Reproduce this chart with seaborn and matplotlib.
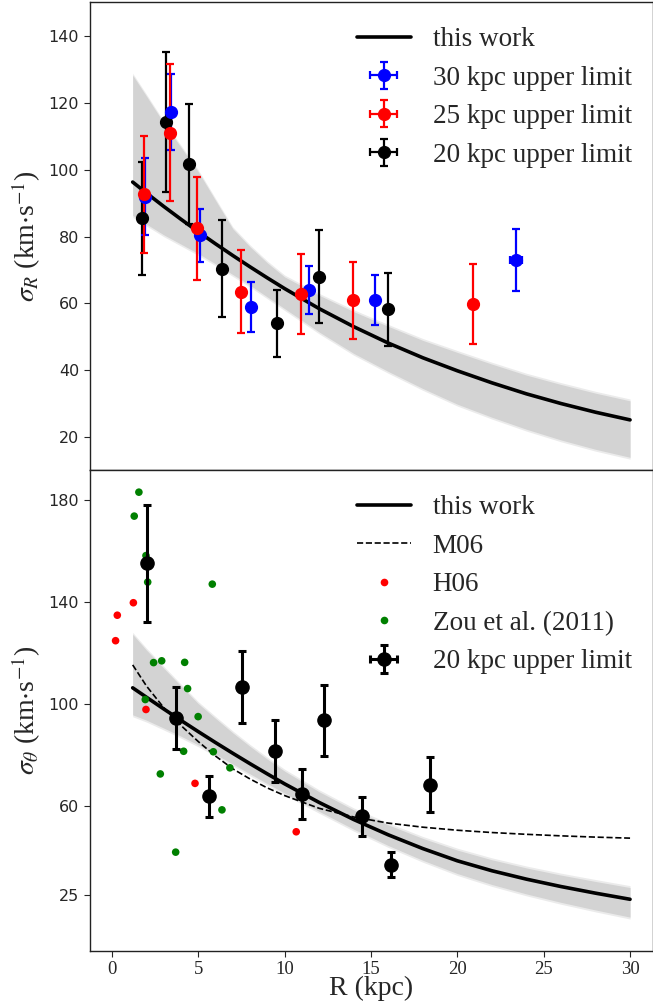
import numpy as np
import pandas as pd
import matplotlib
matplotlib.use("Agg")
import matplotlib.pyplot as plt
from matplotlib.lines import Line2D
import seaborn as sns

# ---------------- data: top panel (sigma_R) ----------------
r30 = [1.9, 3.42, 5.1, 8.03, 11.4, 15.23, 23.39]
s30 = [91.9, 117.3, 80.3, 58.9, 63.9, 60.9, 72.9]
e30 = [11.5, 11.4, 8.0, 7.4, 7.2, 7.5, 9.3]
x30 = [0.1, 0.1, 0.1, 0.1, 0.1, 0.1, 0.35]

r25 = [1.85, 3.36, 4.9, 7.47, 10.96, 13.94, 20.92]
s25 = [92.6, 111.1, 82.5, 63.5, 62.7, 60.9, 59.8]
e25 = [17.4, 20.5, 15.4, 12.4, 12.0, 11.6, 11.9]
x25 = [0.1, 0.1, 0.1, 0.1, 0.1, 0.1, 0.2]

r20 = [1.75, 3.15, 4.46, 6.39, 9.53, 12.0, 15.98]
s20 = [85.4, 114.3, 101.8, 70.4, 54.0, 68.0, 58.2]
e20 = [17.0, 21.0, 18.0, 14.6, 10.0, 13.8, 11.0]
x20 = [0.1, 0.1, 0.1, 0.1, 0.1, 0.1, 0.1]

model_r = [1.2, 2, 3, 4, 5, 6, 7, 8, 9, 10, 12, 14, 16, 18, 20, 22, 24, 26, 28, 30]
sigR_fit = [96.3, 93.0, 89.0, 85.15, 81.4, 77.8, 74.3, 70.9, 67.6, 64.4,
            58.4, 53.0, 48.1, 43.7, 39.8, 36.2, 32.9, 30.0, 27.4, 25.1]
sigR_hi = [128.3, 122.0, 114.0, 106.7, 99.4, 90.8, 82.3, 76.9, 72.1, 67.9,
           62.4, 57.5, 53.1, 48.9, 45.3, 41.8, 38.5, 35.7, 33.1, 30.8]
sigR_lo = [86.3, 83.7, 80.5, 77.7, 74.9, 71.8, 68.6, 65.4, 61.9, 58.4,
           51.4, 45.0, 39.6, 34.5, 29.8, 25.9, 22.3, 19.1, 16.3, 13.9]

# ---------------- data: bottom panel (sigma_theta) ----------------
sigT_fit = [106.3, 102.6, 98.0, 93.5, 89.1, 84.8, 80.6, 76.5, 72.5, 68.6,
            61.3, 54.6, 48.6, 43.2, 38.4, 34.5, 31.2, 28.3, 25.7, 23.3]
sigT_hi = [127.3, 121.1, 114.0, 107.0, 100.1, 94.3, 88.6, 83.3, 78.3, 73.6,
           65.5, 58.4, 52.5, 47.2, 42.6, 38.8, 35.6, 32.8, 30.3, 27.9]
sigT_lo = [95.7, 93.6, 90.5, 87.3, 83.9, 80.2, 76.4, 72.5, 68.7, 65.0,
           57.8, 50.8, 44.4, 38.6, 33.4, 29.1, 25.4, 22.1, 19.1, 16.3]
m06 = [115.3, 107.0, 98.5, 91.5, 85.2, 79.5, 74.5, 70.5, 67.0, 64.0,
       59.0, 55.6, 53.2, 51.6, 50.4, 49.5, 48.8, 48.2, 47.7, 47.3]

h06_r = [0.31, 0.21, 1.24, 1.97, 4.81, 10.67]
h06_s = [134.8, 124.8, 139.7, 97.8, 68.8, 49.8]

zou_r = [1.56, 1.29, 1.97, 2.07, 5.81, 2.41, 2.88, 4.21, 4.38, 1.93,
         4.99, 4.15, 5.87, 6.83, 2.8, 6.37, 3.69]
zou_s = [183.1, 173.7, 158.2, 147.8, 147.0, 116.2, 116.9, 116.3, 106.0, 101.7,
         95.0, 81.4, 81.2, 74.9, 72.5, 58.4, 41.8]

t20_r = [2.01, 3.71, 5.63, 7.53, 9.44, 11.0, 12.28, 14.46, 16.17, 18.41]
t20_s = [155.2, 94.5, 63.7, 106.5, 81.4, 64.6, 93.5, 55.8, 36.9, 68.2]
t20_e = [23.0, 12.3, 8.0, 14.2, 12.2, 9.7, 13.8, 7.5, 4.8, 10.8]
t20_x = [0.1] * 10

top_yticks = [20, 40, 60, 80, 100, 120, 140]
bot_yticks = [25, 60, 100, 140, 180]
xticks = [0, 5, 10, 15, 20, 25, 30]

# ---------------- style ----------------
sns.set_style("ticks")
plt.rcParams["font.family"] = ["Liberation Serif", "DejaVu Serif"]
plt.rcParams["mathtext.fontset"] = "stix"

W, H = 653, 1006
fig = plt.figure(figsize=(W / 100, H / 100), dpi=100)
left = 89.5 / W
width = (652.5 - 89.5) / W
ax1 = fig.add_axes([left, 1 - 470 / H, width, 468 / H])
ax2 = fig.add_axes([left, 1 - 951 / H, width, 481 / H])

band_col = "#d3d3d3"
mod = pd.DataFrame({"r": model_r, "fitR": sigR_fit, "hiR": sigR_hi, "loR": sigR_lo,
                    "fitT": sigT_fit, "hiT": sigT_hi, "loT": sigT_lo, "m06": m06})


def soft_band(ax, lo, hi, span):
    # main band plus a faint halo to imitate the blurred edge
    pad = span * 0.004
    ax.fill_between(mod["r"], mod[lo] - pad, mod[hi] + pad, color=band_col,
                    alpha=0.45, lw=0, zorder=0)
    ax.fill_between(mod["r"], mod[lo], mod[hi], color=band_col, lw=0, zorder=0.1)


# ---- top panel ----
soft_band(ax1, "loR", "hiR", 140)
sns.lineplot(data=mod, x="r", y="fitR", color="k", lw=2.6, ax=ax1,
             estimator=None, sort=False, zorder=2)
ekw = dict(fmt="o", ms=8.5, elinewidth=1.6, capsize=2.8, capthick=1.6, zorder=3)
h20 = ax1.errorbar(r20, s20, yerr=e20, xerr=x20, color="k", **ekw)
h30 = ax1.errorbar(r30, s30, yerr=e30, xerr=x30, color="blue", **ekw)
h25 = ax1.errorbar(r25, s25, yerr=e25, xerr=x25, color="red", **ekw)
lw_handle = Line2D([], [], color="k", lw=2.6)
ax1.legend([lw_handle, h30, h25, h20],
           ["this work", "30 kpc upper limit", "25 kpc upper limit", "20 kpc upper limit"],
           loc="upper left", bbox_to_anchor=(0.4555, 0.969), frameon=False,
           fontsize=19.5, borderaxespad=0, labelspacing=0.5, handletextpad=0.8)
ax1.set_xlim(-1.3, 31.3)
ax1.set_ylim(10.1, 150.2)
ax1.set_yticks(top_yticks)
ax1.set_xticks(xticks)
ax1.tick_params(axis="x", bottom=False, labelbottom=False)
ax1.tick_params(axis="y", labelsize=11.5, labelfontfamily="DejaVu Sans", length=4)
ax1.set_xlabel("")
ax1.set_ylabel(r"$\sigma_R$ (km$\cdot$s$^{-1}$)", fontsize=20)

# ---- bottom panel ----
soft_band(ax2, "loT", "hiT", 189)
sns.lineplot(data=mod, x="r", y="fitT", color="k", lw=2.6, ax=ax2,
             estimator=None, sort=False, zorder=2)
sns.lineplot(data=mod, x="r", y="m06", color="k", lw=1.2, ax=ax2,
             estimator=None, sort=False, zorder=2, linestyle="--")
sns.scatterplot(x=zou_r, y=zou_s, color="green", s=30, edgecolor="none", ax=ax2, zorder=2.5)
sns.scatterplot(x=h06_r, y=h06_s, color="red", s=30, edgecolor="none", ax=ax2, zorder=2.6)
hb = ax2.errorbar(t20_r, t20_s, yerr=t20_e, xerr=t20_x, color="k", fmt="o", ms=9.5,
                  elinewidth=2.2, capsize=3.2, capthick=2.2, zorder=3)
l_this = Line2D([], [], color="k", lw=2.6)
l_m06 = Line2D([], [], color="k", lw=1.2, linestyle="--")
l_h06 = Line2D([], [], color="red", marker="o", ms=5.5, mec="none", ls="none")
l_zou = Line2D([], [], color="green", marker="o", ms=5.5, mec="none", ls="none")
ax2.legend([l_this, l_m06, l_h06, l_zou, hb],
           ["this work", "M06", "H06", "Zou et al. (2011)", "20 kpc upper limit"],
           loc="upper left", bbox_to_anchor=(0.4555, 0.970), frameon=False,
           fontsize=19.5, borderaxespad=0, labelspacing=0.5, handletextpad=0.8)
ax2.set_xlim(-1.3, 31.3)
ax2.set_ylim(3.0, 191.8)
ax2.set_yticks(bot_yticks)
ax2.set_xticks(xticks)
ax2.tick_params(axis="y", labelsize=11.5, labelfontfamily="DejaVu Sans", length=4)
ax2.tick_params(axis="x", labelsize=13.5, length=4, pad=3)
ax2.set_xlabel("R (kpc)", fontsize=20, labelpad=-1)
ax2.set_ylabel(r"$\sigma_\theta$ (km$\cdot$s$^{-1}$)", fontsize=20)

for ax in (ax1, ax2):
    for s in ax.spines.values():
        s.set_color("#222222")
        s.set_linewidth(1.0)

fig.savefig("out.png", dpi=100)
